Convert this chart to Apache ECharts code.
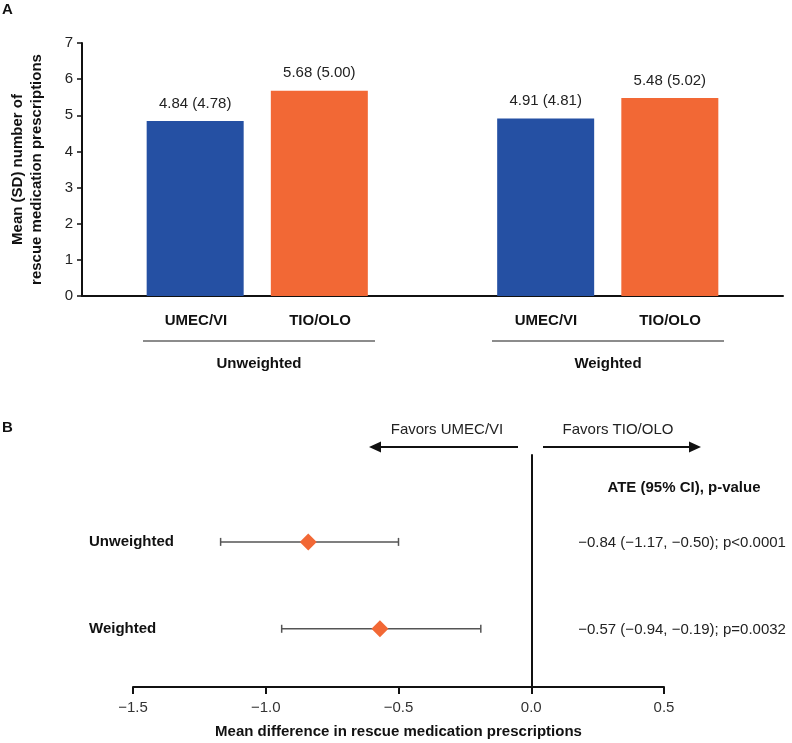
<!DOCTYPE html>
<html>
<head>
<meta charset="utf-8">
<script src="https://cdn.jsdelivr.net/npm/echarts@6/dist/echarts.min.js"></script>
<style>html,body{margin:0;padding:0;background:#fff;}#c{width:792px;height:743px;}</style>
</head>
<body>
<div id="c"></div>
<script>
// ---- Panel A data ----
var groups = ['Unweighted', 'Weighted'];
var treatments = ['UMEC/VI', 'TIO/OLO'];
var umecMean = [4.84, 4.91];
var umecSD = [4.78, 4.81];
var tioMean = [5.68, 5.48];
var tioSD = [5.00, 5.02];
var yTicksA = [0, 1, 2, 3, 4, 5, 6, 7];

// ---- Panel B data ----
var rows = ['Unweighted', 'Weighted'];
var ateEst = [-0.84, -0.57];
var ateLo = [-1.17, -0.94];
var ateHi = [-0.50, -0.19];
var pText = ['p<0.0001', 'p=0.0032'];
var xTicksB = [-1.5, -1.0, -0.5, 0.0, 0.5];

var FONT = '"Liberation Sans", Arial, Helvetica, sans-serif';
var BLUE = '#2550A3', ORANGE = '#F26835';

function fmt(v, d) { var s = Math.abs(v).toFixed(d); return (v < 0 ? '\u2212' : '') + s; }

var chart = echarts.init(document.getElementById('c'), null, {renderer: 'canvas'});

var ciData = rows.map(function (r, i) { return [ateLo[i], ateHi[i], i + 1, i]; });
var ptData = rows.map(function (r, i) { return [ateEst[i], i + 1]; });

var boldText = function (txt, x, y, size) {
  return {type: 'text', x: x, y: y,
    style: {text: txt, fill: '#111', font: 'bold ' + size + 'px ' + FONT, align: 'center', verticalAlign: 'middle'}};
};

var option = {
  backgroundColor: '#fff',
  animation: false,
  textStyle: {fontFamily: FONT},
  grid: [
    {left: 82, right: 9, top: 43, bottom: 447, containLabel: false},
    {left: 133, right: 128, top: 455, bottom: 56, containLabel: false}
  ],
  xAxis: [
    {gridIndex: 0, type: 'category', data: groups,
      axisLine: {lineStyle: {color: '#111', width: 2}}, axisTick: {show: false}, axisLabel: {show: false}},
    {gridIndex: 1, type: 'value', min: -1.5, max: 0.5, interval: 0.5,
      axisLine: {onZero: false, lineStyle: {color: '#111', width: 2}},
      axisTick: {length: 7, lineStyle: {color: '#111', width: 2}},
      axisLabel: {color: '#333', fontSize: 15, margin: 13, fontFamily: FONT, formatter: function (v) { return fmt(v, 1); }},
      splitLine: {show: false},
      name: 'Mean difference in rescue medication prescriptions', nameLocation: 'middle', nameGap: 37,
      nameTextStyle: {color: '#111', fontSize: 15, fontWeight: 'bold', fontFamily: FONT}}
  ],
  yAxis: [
    {gridIndex: 0, type: 'value', min: 0, max: 7, interval: 1,
      axisLine: {show: true, lineStyle: {color: '#111', width: 2}},
      axisTick: {show: true, length: 5, lineStyle: {color: '#111', width: 1.5}},
      axisLabel: {color: '#222', fontSize: 15, margin: 9, fontFamily: FONT},
      splitLine: {show: false},
      name: 'Mean (SD) number of\nrescue medication prescriptions', nameLocation: 'middle', nameGap: 36, nameRotate: 90,
      nameTextStyle: {color: '#111', fontSize: 15, fontWeight: 'bold', lineHeight: 19, fontFamily: FONT}},
    {gridIndex: 1, type: 'value', min: 0, max: 2.67, inverse: true,
      axisLine: {show: true, onZero: true, lineStyle: {color: '#111', width: 2}},
      axisTick: {show: false}, axisLabel: {show: false}, splitLine: {show: false}}
  ],
  series: [
    {type: 'bar', xAxisIndex: 0, yAxisIndex: 0, name: treatments[0], data: umecMean,
      barWidth: 97, barGap: '28%', itemStyle: {color: BLUE},
      label: {show: true, position: 'top', distance: 10, color: '#222', fontSize: 15, fontFamily: FONT,
        formatter: function (p) { return p.value.toFixed(2) + ' (' + umecSD[p.dataIndex].toFixed(2) + ')'; }}},
    {type: 'bar', xAxisIndex: 0, yAxisIndex: 0, name: treatments[1], data: tioMean,
      barWidth: 97, barGap: '28%', itemStyle: {color: ORANGE},
      label: {show: true, position: 'top', distance: 10, color: '#222', fontSize: 15, fontFamily: FONT,
        formatter: function (p) { return p.value.toFixed(2) + ' (' + tioSD[p.dataIndex].toFixed(2) + ')'; }}},
    {type: 'custom', xAxisIndex: 1, yAxisIndex: 1, data: ciData, encode: {x: [0, 1], y: 2}, z: 3,
      renderItem: function (params, api) {
        var i = api.value(3);
        var a = api.coord([api.value(0), api.value(2)]);
        var b = api.coord([api.value(1), api.value(2)]);
        var cs = params.coordSys;
        var zx = api.coord([0, api.value(2)])[0];
        var st = {stroke: '#555', lineWidth: 1.5};
        return {type: 'group', children: [
          {type: 'line', shape: {x1: a[0], y1: a[1], x2: b[0], y2: b[1]}, style: st},
          {type: 'line', shape: {x1: a[0], y1: a[1] - 4, x2: a[0], y2: a[1] + 4}, style: st},
          {type: 'line', shape: {x1: b[0], y1: b[1] - 4, x2: b[0], y2: b[1] + 4}, style: st},
          {type: 'text', x: zx + 47, y: a[1] + 1, style: {
            text: fmt(ateEst[i], 2) + ' (' + fmt(ateLo[i], 2) + ', ' + fmt(ateHi[i], 2) + '); ' + pText[i],
            fill: '#222', font: '15px ' + FONT, align: 'left', verticalAlign: 'middle'}},
          {type: 'text', x: cs.x - 44, y: a[1], style: {
            text: rows[i], fill: '#111', font: 'bold 15px ' + FONT, align: 'left', verticalAlign: 'middle'}}
        ]};
      }},
    {type: 'scatter', xAxisIndex: 1, yAxisIndex: 1, data: ptData, symbol: 'diamond', symbolSize: 17, z: 5,
      itemStyle: {color: ORANGE, opacity: 1}}
  ],
  graphic: [
    {type: 'text', x: 2, y: 10, style: {text: 'A', fill: '#111', font: 'bold 15px ' + FONT, verticalAlign: 'middle'}},
    {type: 'text', x: 2, y: 428, style: {text: 'B', fill: '#111', font: 'bold 15px ' + FONT, verticalAlign: 'middle'}},
    boldText(treatments[0], 196, 321, 15),
    boldText(treatments[1], 320, 321, 15),
    boldText(treatments[0], 546, 321, 15),
    boldText(treatments[1], 670, 321, 15),
    {type: 'line', shape: {x1: 143, y1: 341, x2: 375, y2: 341}, style: {stroke: '#666', lineWidth: 1.5}},
    {type: 'line', shape: {x1: 492, y1: 341, x2: 724, y2: 341}, style: {stroke: '#666', lineWidth: 1.5}},
    boldText(groups[0], 259, 364, 15),
    boldText(groups[1], 608, 364, 15),
    // arrows panel B
    {type: 'text', x: 447, y: 430, style: {text: 'Favors UMEC/VI', fill: '#222', font: '15px ' + FONT, align: 'center', verticalAlign: 'middle'}},
    {type: 'text', x: 618, y: 430, style: {text: 'Favors TIO/OLO', fill: '#222', font: '15px ' + FONT, align: 'center', verticalAlign: 'middle'}},
    {type: 'line', shape: {x1: 518, y1: 447, x2: 378, y2: 447}, style: {stroke: '#111', lineWidth: 2}},
    {type: 'polygon', shape: {points: [[369, 447], [381, 441.5], [381, 452.5]]}, style: {fill: '#111'}},
    {type: 'line', shape: {x1: 543, y1: 447, x2: 692, y2: 447}, style: {stroke: '#111', lineWidth: 2}},
    {type: 'polygon', shape: {points: [[701, 447], [689, 441.5], [689, 452.5]]}, style: {fill: '#111'}},
    {type: 'text', x: 684, y: 488, style: {text: 'ATE (95% CI), p-value', fill: '#111', font: 'bold 15px ' + FONT, align: 'center', verticalAlign: 'middle'}}
  ]
};
chart.setOption(option);
</script>
</body>
</html>
